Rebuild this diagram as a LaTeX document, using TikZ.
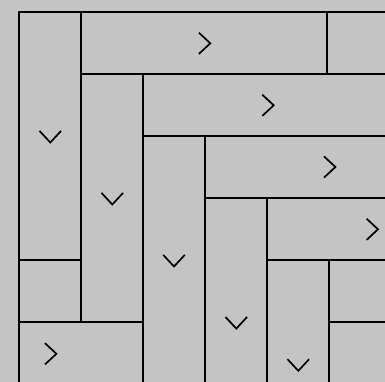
\documentclass[tikz,border=0pt]{standalone}
\definecolor{bgc}{RGB}{196,196,196}
\tikzset{
  brick/.style={draw=black, line width=2pt, line join=miter},
  frameline/.style={draw=black, line width=2.4pt, line cap=rect},
  chev/.style={draw=black, line width=1.7pt, line join=miter},
  rchev/.pic={\draw[chev] (-5.7,-10.6) -- (5.7,0) -- (-5.7,10.6);},
  dchev/.pic={\draw[chev] (-10.8,-5.8) -- (0,5.8) -- (10.8,-5.8);}
}
\begin{document}
\begin{tikzpicture}[x=1pt, y=-1pt]
\fill[bgc] (0,0) rectangle (385,382);
\useasboundingbox (0,0) rectangle (385,382);
\begin{scope}
\clip (19,12) rectangle (385,382);
% vertical bricks
\draw[brick] (19,12) rectangle (81,260);
\draw[brick] (81,74) rectangle (143,322);
\draw[brick] (143,136) rectangle (205,400);
\draw[brick] (205,198) rectangle (267,400);
\draw[brick] (267,260) rectangle (329,400);
\draw[brick] (329,322) rectangle (400,400);
% horizontal bricks
\draw[brick] (81,12) rectangle (327,74);
\draw[brick] (327,12) rectangle (400,74);
\draw[brick] (143,74) rectangle (400,136);
\draw[brick] (205,136) rectangle (400,198);
\draw[brick] (267,198) rectangle (400,260);
\draw[brick] (329,260) rectangle (400,322);
\draw[brick] (0,260) rectangle (81,322);
\draw[brick] (0,322) rectangle (143,400);
\end{scope}
% frame
\coordinate (fbl) at (19,382);
\coordinate (ftl) at (19,12);
\coordinate (ftr) at (385,12);
\draw[frameline] (fbl) -- (ftl) -- (ftr);
% chevrons
\pic at (50.3,136.7) {dchev};
\pic at (112.3,198.7) {dchev};
\pic at (174,260.7) {dchev};
\pic at (236.3,322.8) {dchev};
\pic at (298.3,365) {dchev};
\pic at (204.6,43.3) {rchev};
\pic at (268,105.3) {rchev};
\pic at (329.7,167) {rchev};
\pic at (372.3,229.3) {rchev};
\pic at (50.7,353.8) {rchev};
\end{tikzpicture}
\end{document}
